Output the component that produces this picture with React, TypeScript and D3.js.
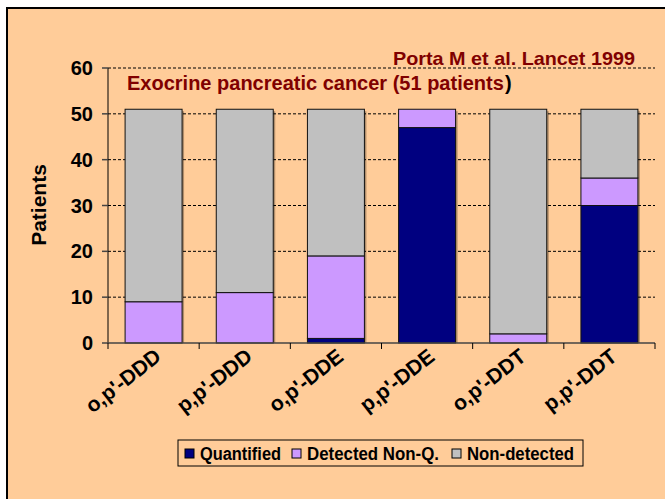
import React from "react";
import * as d3 from "d3";

const categories = ["o,p'-DDD", "p,p'-DDD", "o,p'-DDE", "p,p'-DDE", "o,p'-DDT", "p,p'-DDT"];
const quantified = [0, 0, 1, 47, 0, 30];
const detectedNonQ = [9, 11, 18, 4, 2, 6];
const nonDetected = [42, 40, 32, 0, 49, 15];
const seriesNames = ["Quantified", "Detected Non-Q.", "Non-detected"];
const seriesColors = ["#000080", "#CC99FF", "#C0C0C0"];
const yTicks = [0, 10, 20, 30, 40, 50, 60];

const W = 665;
const H = 499;
const left = 108;
const right = 655;
const top = 68;
const bottom = 343;
const FONT = "'Liberation Sans', Arial, sans-serif";

export default function App() {
  const x = d3.scaleBand<string>().domain(categories).range([left, right]).paddingInner(0.375).paddingOuter(0.1875);
  const y = d3.scaleLinear().domain([0, 60]).range([bottom, top]);
  const rows = categories.map((c, i) => ({
    cat: c,
    s0: quantified[i],
    s1: detectedNonQ[i],
    s2: nonDetected[i],
  }));
  const stack = d3.stack<any>().keys(["s0", "s1", "s2"]);
  const layers = stack(rows);
  const step = x.step();
  const bw = x.bandwidth();
  const boundaries = d3.range(categories.length + 1).map((i) => left + i * step);

  const legendItems = [
    { mx: 185, tx: 200, len: 81 },
    { mx: 292, tx: 307, len: 132 },
    { mx: 452, tx: 467, len: 107 },
  ];

  return (
    <svg width={W} height={H} style={{ position: "absolute", left: 0, top: 0, display: "block" }}>
      <rect x={0} y={0} width={W} height={H} fill="#ffffff" />
      <rect x={7} y={8} width={700} height={520} fill="#FFCC99" stroke="#000" strokeWidth={2} />

      {/* gridlines */}
      {yTicks.filter((t) => t > 0).map((t) => (
        <line key={"g" + t} x1={left} x2={right} y1={y(t)} y2={y(t)} stroke="#000" strokeWidth={1} strokeDasharray="3 2" />
      ))}

      {/* titles */}
      <text x={393} y={65} textLength={242} lengthAdjust="spacingAndGlyphs" fontFamily={FONT} fontWeight="bold" fontSize={19} fill="#800000">
        Porta M et al. Lancet 1999
      </text>
      <text x={127} y={90} fontFamily={FONT} fontWeight="bold" fontSize={20} fill="#800000">
        Exocrine pancreatic cancer (51 patients
      </text>
      <text x={505} y={90} fontFamily={FONT} fontWeight="bold" fontSize={20} fill="#000">
        )
      </text>

      {/* bar shadows */}
      {rows.map((r, i) => {
        const total = quantified[i] + detectedNonQ[i] + nonDetected[i];
        return (
          <rect key={"sh" + i} x={(x(r.cat) as number) + 2} y={y(total) + 2} width={bw} height={bottom - y(total) - 2} fill="#000" opacity={0.3} />
        );
      })}

      {/* bars */}
      {layers.map((layer, li) =>
        layer.map((d, i) => {
          const h = y(d[0]) - y(d[1]);
          if (h <= 0) return null;
          return (
            <rect
              key={li + "-" + i}
              x={x(categories[i]) as number}
              y={y(d[1])}
              width={bw}
              height={h}
              fill={seriesColors[li]}
              stroke="#111"
              strokeWidth={1}
            />
          );
        })
      )}

      {/* axes */}
      <line x1={left} x2={left} y1={top} y2={bottom} stroke="#000" strokeWidth={1} />
      {yTicks.map((t) => (
        <g key={"yt" + t}>
          <line x1={left - 6} x2={left} y1={y(t)} y2={y(t)} stroke="#444" strokeWidth={1.5} />
          <text x={93} y={y(t) + 7} textAnchor="end" fontFamily={FONT} fontWeight="bold" fontSize={20} fill="#000">
            {t}
          </text>
        </g>
      ))}
      <line x1={left} x2={right} y1={bottom} y2={bottom} stroke="#444" strokeWidth={1.5} />
      {boundaries.map((bx, i) => (
        <line key={"xt" + i} x1={bx} x2={bx} y1={bottom} y2={bottom + 6} stroke="#000" strokeWidth={1} />
      ))}
      {categories.map((c) => {
        const cx = (x(c) as number) + bw / 2 + 9;
        const cy = 359;
        return (
          <text
            key={"xl" + c}
            x={cx}
            y={cy}
            textAnchor="end"
            transform={`rotate(-38 ${cx} ${cy})`}
            fontFamily={FONT}
            fontWeight="bold"
            fontSize={21}
            fill="#000"
          >
            {c}
          </text>
        );
      })}

      {/* y label */}
      <text
        transform={`translate(46 205) rotate(-90)`}
        textAnchor="middle"
        fontFamily={FONT}
        fontWeight="bold"
        fontSize={21}
        fill="#000"
      >
        Patients
      </text>

      {/* legend */}
      <rect x={178} y={440} width={405} height={26} fill="#FFCC99" stroke="#000" strokeWidth={1} />
      {legendItems.map((it, i) => (
        <g key={"lg" + i}>
          <rect x={it.mx} y={449} width={9} height={9} fill={seriesColors[i]} stroke="#000" strokeWidth={1} />
          <text x={it.tx} y={459.5} textLength={it.len} lengthAdjust="spacingAndGlyphs" fontFamily={FONT} fontWeight="bold" fontSize={17.5} fill="#000">
            {seriesNames[i]}
          </text>
        </g>
      ))}
    </svg>
  );
}
